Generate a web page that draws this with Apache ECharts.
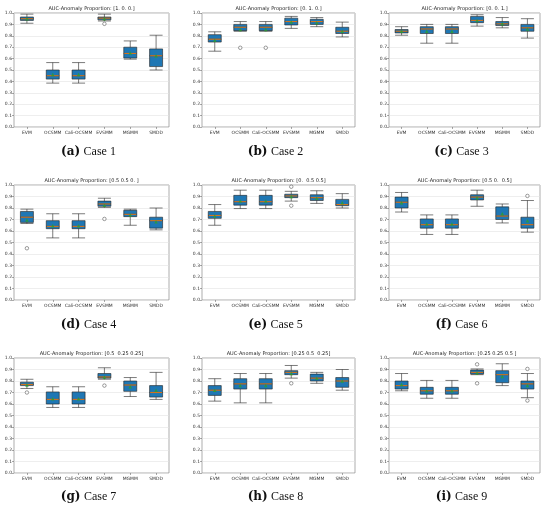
<!DOCTYPE html>
<html>
<head>
<meta charset="utf-8">
<script src="https://cdn.jsdelivr.net/npm/echarts@6/dist/echarts.min.js"></script>
<style>
html, body { margin: 0; padding: 0; background: #fff; }
#main { width: 550px; height: 509px; }
</style>
</head>
<body>
<div id="main"></div>
<script>
// categories of every subplot
var categories = ['EVM', 'OCSMM', 'Cali-OCSMM', 'EVSMM', 'MGMM', 'SMDD'];

var titles = [
    'AUC-Anomaly Proportion: [1. 0. 0.]',
    'AUC-Anomaly Proportion: [0. 1. 0.]',
    'AUC-Anomaly Proportion: [0. 0. 1.]',
    'AUC-Anomaly Proportion: [0.5 0.5 0. ]',
    'AUC-Anomaly Proportion: [0.  0.5 0.5]',
    'AUC-Anomaly Proportion: [0.5 0.  0.5]',
    'AUC-Anomaly Proportion: [0.5  0.25 0.25]',
    'AUC-Anomaly Proportion: [0.25 0.5  0.25]',
    'AUC-Anomaly Proportion: [0.25 0.25 0.5 ]'
];

var captionLetters = ['a', 'b', 'c', 'd', 'e', 'f', 'g', 'h', 'i'];
var captionNames = ['Case 1', 'Case 2', 'Case 3', 'Case 4', 'Case 5', 'Case 6', 'Case 7', 'Case 8', 'Case 9'];

// [min, Q1, median, Q3, max] per method
var boxData = [
    [[0.91, 0.935, 0.95, 0.965, 0.99], [0.385, 0.42, 0.45, 0.50, 0.565], [0.385, 0.42, 0.45, 0.50, 0.565],
     [0.93, 0.94, 0.955, 0.965, 0.99], [0.595, 0.605, 0.645, 0.70, 0.755], [0.50, 0.53, 0.625, 0.685, 0.805]],
    [[0.665, 0.745, 0.77, 0.81, 0.835], [0.84, 0.845, 0.875, 0.90, 0.925], [0.84, 0.845, 0.875, 0.90, 0.925],
     [0.865, 0.895, 0.925, 0.955, 0.97], [0.88, 0.90, 0.925, 0.945, 0.96], [0.79, 0.82, 0.84, 0.875, 0.92]],
    [[0.805, 0.825, 0.84, 0.855, 0.88], [0.735, 0.82, 0.86, 0.88, 0.90], [0.735, 0.82, 0.86, 0.88, 0.90],
     [0.885, 0.915, 0.935, 0.97, 0.985], [0.87, 0.89, 0.905, 0.925, 0.96], [0.78, 0.84, 0.87, 0.90, 0.95]],
    [[0.665, 0.675, 0.72, 0.77, 0.79], [0.54, 0.62, 0.64, 0.69, 0.75], [0.54, 0.62, 0.64, 0.69, 0.75],
     [0.805, 0.815, 0.835, 0.86, 0.885], [0.65, 0.725, 0.745, 0.78, 0.79], [0.61, 0.625, 0.69, 0.72, 0.80]],
    [[0.65, 0.71, 0.735, 0.77, 0.83], [0.795, 0.825, 0.855, 0.91, 0.955], [0.795, 0.825, 0.855, 0.91, 0.955],
     [0.86, 0.89, 0.905, 0.92, 0.945], [0.84, 0.865, 0.89, 0.915, 0.95], [0.80, 0.82, 0.83, 0.875, 0.925]],
    [[0.765, 0.80, 0.85, 0.895, 0.935], [0.57, 0.625, 0.655, 0.705, 0.74], [0.57, 0.625, 0.655, 0.705, 0.74],
     [0.815, 0.87, 0.895, 0.915, 0.955], [0.67, 0.70, 0.73, 0.81, 0.835], [0.59, 0.625, 0.655, 0.72, 0.865]],
    [[0.735, 0.76, 0.77, 0.79, 0.815], [0.57, 0.60, 0.64, 0.705, 0.75], [0.57, 0.60, 0.64, 0.705, 0.75],
     [0.815, 0.825, 0.835, 0.865, 0.915], [0.665, 0.71, 0.765, 0.80, 0.83], [0.64, 0.66, 0.70, 0.76, 0.875]],
    [[0.625, 0.675, 0.72, 0.76, 0.82], [0.61, 0.73, 0.775, 0.82, 0.865], [0.61, 0.73, 0.775, 0.82, 0.865],
     [0.825, 0.855, 0.875, 0.89, 0.935], [0.78, 0.80, 0.825, 0.86, 0.875], [0.72, 0.745, 0.80, 0.83, 0.90]],
    [[0.715, 0.73, 0.76, 0.80, 0.865], [0.65, 0.685, 0.715, 0.745, 0.805], [0.65, 0.685, 0.715, 0.745, 0.805],
     [0.855, 0.86, 0.875, 0.895, 0.905], [0.76, 0.785, 0.855, 0.89, 0.95], [0.655, 0.73, 0.775, 0.80, 0.865]]
];

// mean per method (green triangles)
var meanData = [
    [0.95, 0.46, 0.46, 0.95, 0.65, 0.625],
    [0.76, 0.855, 0.855, 0.92, 0.915, 0.84],
    [0.84, 0.84, 0.84, 0.935, 0.905, 0.86],
    [0.695, 0.645, 0.645, 0.825, 0.74, 0.68],
    [0.73, 0.86, 0.86, 0.90, 0.885, 0.845],
    [0.845, 0.66, 0.66, 0.89, 0.75, 0.69],
    [0.765, 0.645, 0.645, 0.835, 0.75, 0.72],
    [0.72, 0.76, 0.76, 0.865, 0.825, 0.80],
    [0.77, 0.715, 0.715, 0.87, 0.84, 0.76]
];

// outliers: [method index, value]
var outlierData = [
    [[3, 0.905]],
    [[1, 0.695], [2, 0.695]],
    [],
    [[0, 0.45], [3, 0.705]],
    [[3, 0.985], [3, 0.82]],
    [[5, 0.905]],
    [[0, 0.70], [3, 0.76]],
    [[3, 0.78]],
    [[3, 0.945], [3, 0.78], [5, 0.905], [5, 0.63]]
];

var yMin = 0, yMax = 1, yStep = 0.1;

var dom = document.getElementById('main');
var myChart = echarts.init(dom, null, { renderer: 'canvas' });

// subplot frames in pixels
var colLeft = [14, 202, 389];
var colWidth = [155, 153, 151];
var rowTop = [13, 185, 358];
var rowHeight = [114, 115, 115];
var captionY = [152, 325, 497];

var grids = [], xAxes = [], yAxes = [], series = [], graphics = [];

for (var k = 0; k < 9; k++) {
    var r = Math.floor(k / 3), c = k % 3;
    grids.push({
        left: colLeft[c], top: rowTop[r], width: colWidth[c], height: rowHeight[r],
        show: true, borderColor: '#8a8a8a', borderWidth: 0.7, backgroundColor: '#fff'
    });
    xAxes.push({
        type: 'category', gridIndex: k, data: categories, boundaryGap: true,
        axisLine: { show: false },
        axisTick: { show: true, alignWithLabel: true, length: 2, lineStyle: { color: '#555', width: 0.5 } },
        axisLabel: { fontSize: 4.5, color: '#333', margin: 3, interval: 0, fontFamily: 'DejaVu Sans' },
        splitLine: { show: false }
    });
    yAxes.push({
        type: 'value', gridIndex: k, min: yMin, max: yMax, interval: yStep,
        axisLine: { show: false },
        axisTick: { show: true, length: 2, lineStyle: { color: '#555', width: 0.5 } },
        axisLabel: {
            fontSize: 4.5, color: '#333', margin: 2, fontFamily: 'DejaVu Sans',
            formatter: function (v) { return v.toFixed(1); }
        },
        splitLine: { show: true, lineStyle: { color: '#e2e2e2', width: 0.6 } }
    });

    // box + whiskers
    series.push({
        type: 'boxplot', xAxisIndex: k, yAxisIndex: k,
        data: boxData[k], boxWidth: [13, 13],
        itemStyle: { color: '#1f77b4', borderColor: '#222', borderWidth: 0.6 },
        emphasis: { disabled: true },
        z: 2
    });
    // median line
    series.push({
        type: 'scatter', xAxisIndex: k, yAxisIndex: k,
        symbol: 'rect', symbolSize: [12, 1.1],
        itemStyle: { color: '#ff7f0e' },
        data: boxData[k].map(function (b, i) { return [i, b[2]]; }),
        silent: true, z: 3
    });
    // mean
    series.push({
        type: 'scatter', xAxisIndex: k, yAxisIndex: k,
        symbol: 'triangle', symbolSize: 3.5,
        itemStyle: { color: '#2ca02c' },
        data: meanData[k].map(function (m, i) { return [i, m]; }),
        silent: true, z: 4
    });
    // outliers
    series.push({
        type: 'scatter', xAxisIndex: k, yAxisIndex: k,
        symbol: 'circle', symbolSize: 3.5,
        itemStyle: { color: '#fff', borderColor: '#333', borderWidth: 0.6 },
        data: outlierData[k],
        silent: true, z: 4
    });

    var cx = colLeft[c] + colWidth[c] / 2;
    graphics.push({
        type: 'text', x: cx, y: rowTop[r] - 2,
        style: {
            text: titles[k], fontSize: 5, fill: '#222', fontFamily: 'DejaVu Sans',
            textAlign: 'center', textVerticalAlign: 'bottom'
        }
    });
    graphics.push({
        type: 'text', x: cx - 3, y: captionY[r],
        style: {
            text: '{b|(' + captionLetters[k] + ')} {n|' + captionNames[k] + '}',
            textAlign: 'center', textVerticalAlign: 'middle',
            rich: {
                b: { fontSize: 12, fontWeight: 'bold', fontFamily: 'DejaVu Serif', fill: '#111' },
                n: { fontSize: 12, fontFamily: 'Liberation Serif', fill: '#111' }
            }
        }
    });
}

var option = {
    backgroundColor: '#fff',
    animation: false,
    grid: grids,
    xAxis: xAxes,
    yAxis: yAxes,
    series: series,
    graphic: graphics
};

option && myChart.setOption(option);

window.addEventListener('resize', myChart.resize);
</script>
</body>
</html>
